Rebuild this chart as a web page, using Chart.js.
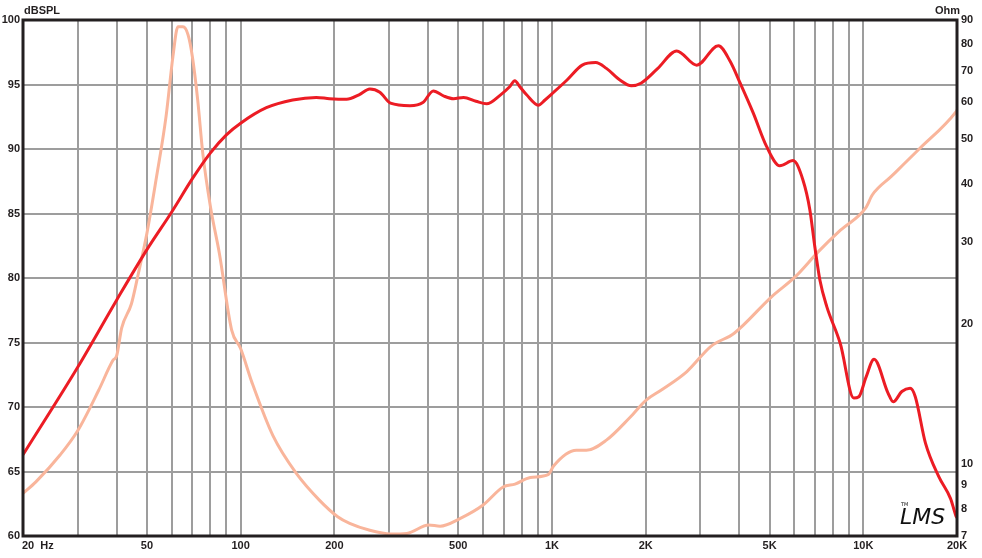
<!DOCTYPE html>
<html lang="en">
<head>
    <meta charset="UTF-8">
    <title>SPL and impedance response</title>
    <style>
        body {
            margin: 0;
            background-color: #ffffff;
        }
        .chart-box {
            width: 982px;
            height: 558px;
        }
    </style>
</head>
<body>
    <div class="chart-box">
        <canvas id="responseChart"></canvas>
    </div>

    <script src="https://cdn.jsdelivr.net/npm/chart.js"></script>
    <script>
        // Respuesta en frecuencia (dBSPL)
        const splFreq = [20, 30, 40, 50, 60, 70, 80, 90, 100, 121, 147, 175, 193, 219, 240, 260, 280, 303, 350, 385, 416, 450, 483, 520, 570, 617, 684, 730, 760, 790, 829, 904, 950, 1013, 1118, 1251, 1382, 1496, 1653, 1799, 1931, 2188, 2517, 2917, 3424, 3735, 4024, 4430, 4890, 5394, 5950, 6400, 6735, 6990, 7260, 7630, 8440, 9320, 9680, 10200, 10830, 12000, 12480, 13300, 14140, 14690, 15840, 17480, 19070, 19820, 20000];
        const splDb = [66.3, 73.1, 78.3, 82.2, 85.1, 87.7, 89.7, 91.1, 92.0, 93.2, 93.8, 94.0, 93.9, 93.85, 94.2, 94.65, 94.4, 93.55, 93.36, 93.6, 94.5, 94.1, 93.9, 94.0, 93.7, 93.5, 94.2, 94.8, 95.3, 94.8, 94.2, 93.4, 93.8, 94.4, 95.35, 96.5, 96.7, 96.25, 95.35, 94.9, 95.1, 96.25, 97.6, 96.5, 98.0, 96.8, 95.1, 92.8, 90.2, 88.7, 89.1, 87.6, 85.3, 82.4, 79.8, 77.8, 74.9, 70.7, 70.8, 72.3, 73.7, 71.1, 70.4, 71.2, 71.45, 70.8, 67.2, 64.6, 62.9, 61.6, 61.4];

        // Impedancia (Ohm)
        const impFreq = [20, 22, 26.3, 30, 35, 38.9, 40, 41.5, 44.6, 46.9, 50, 53.5, 57.6, 60.6, 62.9, 65.3, 67.8, 70, 72.8, 75.6, 80, 85.5, 93.6, 100, 109, 127, 151, 179, 205, 224, 260, 303, 342, 402, 437, 508, 601, 697, 761, 852, 975, 1012, 1198, 1290, 1496, 1783, 2003, 2240, 2713, 3241, 3850, 5083, 6065, 7175, 8446, 10180, 10700, 12300, 15060, 19870, 20000];
        const impOhm = [8.64, 9.15, 10.45, 11.8, 14.4, 16.7, 17.1, 19.6, 22.1, 25.6, 31.3, 40.8, 55.8, 75, 87, 87, 83.6, 75, 60.6, 46.5, 35.7, 28.3, 19.4, 17.7, 14.9, 11.5, 9.54, 8.36, 7.7, 7.45, 7.2, 7.07, 7.09, 7.39, 7.35, 7.64, 8.16, 8.92, 9.05, 9.35, 9.5, 9.9, 10.7, 10.7, 11.25, 12.6, 13.7, 14.4, 15.8, 17.9, 19.1, 22.9, 25.3, 28.6, 31.8, 35.5, 37.9, 41.5, 47.4, 57.2, 57.6];

        // Ejes
        const xGrid = [20, 30, 40, 50, 60, 70, 80, 90, 100, 200, 300, 400, 500, 600, 700, 800, 900, 1000, 2000, 3000, 4000, 5000, 6000, 7000, 8000, 9000, 10000, 20000];
        const xLabelValues = [50, 100, 200, 500, 1000, 2000, 5000, 10000, 20000];
        const xLabelTexts = ['50', '100', '200', '500', '1K', '2K', '5K', '10K', '20K'];
        const dbTicks = [60, 65, 70, 75, 80, 85, 90, 95, 100];
        const ohmTicks = [7, 8, 9, 10, 20, 30, 40, 50, 60, 70, 80, 90];

        const textColor = '#231f20';
        const gridColor = '#9d9d9d';
        const boldFont = 'bold 11px "Liberation Sans", Arial, sans-serif';

        // Textos y marco que Chart.js no dibuja por si solo
        const extrasPlugin = {
            id: 'extras',
            afterDraw(chart) {
                const ctx = chart.ctx;
                const area = chart.chartArea;
                const x = chart.scales.x;

                ctx.save();
                ctx.strokeStyle = '#231f20';
                ctx.lineWidth = 3;
                ctx.strokeRect(area.left, area.top, area.right - area.left, area.bottom - area.top);

                ctx.fillStyle = textColor;
                ctx.font = boldFont;
                ctx.textBaseline = 'middle';

                ctx.textAlign = 'left';
                ctx.fillText('20  Hz', 22, 546);
                ctx.fillText('dBSPL', 24, 11);
                ctx.fillText('Ohm', 935, 11);

                ctx.textAlign = 'center';
                xLabelValues.forEach((v, i) => {
                    ctx.fillText(xLabelTexts[i], x.getPixelForValue(v), 546);
                });

                // logo
                ctx.fillStyle = '#111';
                ctx.textAlign = 'left';
                ctx.font = 'italic 22px "DejaVu Sans", sans-serif';
                ctx.fillText('LMS', 900, 518);
                ctx.font = '5px "DejaVu Sans", sans-serif';
                ctx.fillText('TM', 901, 505);
                ctx.restore();
            }
        };

        new Chart(document.getElementById('responseChart'), {
            type: 'scatter',
            data: {
                datasets: [
                    {
                        label: 'dBSPL',
                        data: splFreq.map((f, i) => ({ x: f, y: splDb[i] })),
                        yAxisID: 'y',
                        showLine: true,
                        borderColor: '#ec1c24',
                        borderWidth: 3,
                        pointRadius: 0,
                        cubicInterpolationMode: 'monotone',
                        order: 0
                    },
                    {
                        label: 'Ohm',
                        data: impFreq.map((f, i) => ({ x: f, y: impOhm[i] })),
                        yAxisID: 'y2',
                        showLine: true,
                        borderColor: '#f9b59b',
                        borderWidth: 3,
                        pointRadius: 0,
                        cubicInterpolationMode: 'monotone',
                        order: 1
                    }
                ]
            },
            options: {
                responsive: true,
                maintainAspectRatio: false,
                animation: false,
                layout: { padding: { top: 20, left: 0, right: 0, bottom: 0 } },
                plugins: {
                    legend: { display: false },
                    tooltip: { enabled: false }
                },
                scales: {
                    x: {
                        type: 'logarithmic',
                        min: 20,
                        max: 20000,
                        afterBuildTicks: (scale) => {
                            scale.ticks = xGrid.map(v => ({ value: v }));
                        },
                        afterFit: (scale) => { scale.height = 22; },
                        ticks: { display: false },
                        grid: { color: gridColor, lineWidth: 2, drawTicks: false },
                        border: { display: false }
                    },
                    y: {
                        type: 'linear',
                        position: 'left',
                        min: 60,
                        max: 100,
                        afterBuildTicks: (scale) => {
                            scale.ticks = dbTicks.map(v => ({ value: v }));
                        },
                        afterFit: (scale) => { scale.width = 23; },
                        ticks: {
                            padding: 3,
                            color: textColor,
                            font: { family: '"Liberation Sans", Arial, sans-serif', size: 11, weight: 'bold' }
                        },
                        grid: { color: gridColor, lineWidth: 2, drawTicks: false },
                        border: { display: false }
                    },
                    y2: {
                        type: 'logarithmic',
                        position: 'right',
                        min: 7,
                        max: 90,
                        afterBuildTicks: (scale) => {
                            scale.ticks = ohmTicks.map(v => ({ value: v }));
                        },
                        afterFit: (scale) => { scale.width = 25; },
                        ticks: {
                            padding: 4,
                            color: textColor,
                            font: { family: '"Liberation Sans", Arial, sans-serif', size: 11, weight: 'bold' },
                            callback: (value) => String(value)
                        },
                        grid: { display: false, drawTicks: false },
                        border: { display: false }
                    }
                }
            },
            plugins: [extrasPlugin]
        });
    </script>
</body>
</html>
